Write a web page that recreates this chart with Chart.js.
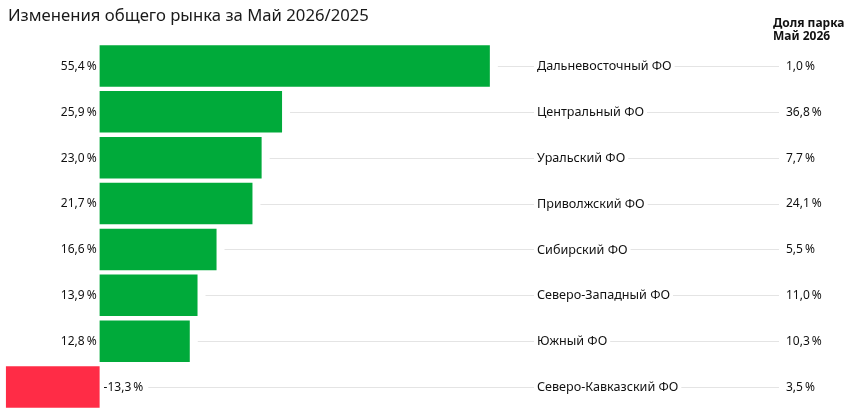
<!DOCTYPE html>
<html>
<head>
<meta charset="utf-8">
<script src="https://cdn.jsdelivr.net/npm/chart.js@4"></script>
<style>
  html, body { margin: 0; padding: 0; background: #fff; }
  #wrap { width: 850px; height: 415px; position: relative; }
</style>
</head>
<body>
<div id="wrap"><canvas id="grafico"></canvas></div>
<script>
const regions = [
  'Дальневосточный ФО', 'Центральный ФО', 'Уральский ФО', 'Приволжский ФО',
  'Сибирский ФО', 'Северо-Западный ФО', 'Южный ФО', 'Северо-Кавказский ФО'
];
const changes = [55.4, 25.9, 23.0, 21.7, 16.6, 13.9, 12.8, -13.3];
const shares = [1.0, 36.8, 7.7, 24.1, 5.5, 11.0, 10.3, 3.5];

const titleText = 'Изменения общего рынка за Май 2026/2025';
const shareHeader = ['Доля парка', 'Май 2026'];

const fontFamily = "'Noto Sans', 'Open Sans', sans-serif";
const green = '#00aa3a';
const red = '#ff2c46';
const gridColor = '#e4e4e4';

function pct(v) {
  return v.toFixed(1).replace('.', ',') + '\u202F%';
}

const rowsPlugin = {
  id: 'rows',
  beforeDatasetsDraw(chart) {
    const ctx = chart.ctx;
    const y = chart.scales.y;
    const x = chart.scales.x;
    const meta = chart.getDatasetMeta(0);
    const lineEnd = 779;
    const labelX = 537;
    ctx.save();
    ctx.strokeStyle = gridColor;
    ctx.lineWidth = 1;
    changes.forEach((v, i) => {
      const py = Math.round(y.getPixelForValue(i)) + 0.5;
      let start;
      ctx.font = '12px ' + fontFamily;
      if (v >= 0) {
        start = meta.data[i].x + 8;
      } else {
        start = x.getPixelForValue(0) + 4 + ctx.measureText(pct(v)).width + 5;
      }
      ctx.font = '12.6px ' + fontFamily;
      const labW = ctx.measureText(regions[i]).width;
      ctx.beginPath();
      ctx.moveTo(start, py);
      ctx.lineTo(labelX - 3, py);
      ctx.moveTo(labelX + labW + 3, py);
      ctx.lineTo(lineEnd, py);
      ctx.stroke();
    });
    ctx.restore();
  },
  afterDatasetsDraw(chart) {
    const ctx = chart.ctx;
    const y = chart.scales.y;
    const x = chart.scales.x;
    const zero = x.getPixelForValue(0);
    ctx.save();
    ctx.fillStyle = '#111';
    ctx.textBaseline = 'middle';
    changes.forEach((v, i) => {
      const py = y.getPixelForValue(i) + 0.5;
      ctx.font = '12px ' + fontFamily;
      if (v >= 0) {
        ctx.textAlign = 'right';
        ctx.fillText(pct(v), zero - 3, py);
      } else {
        ctx.textAlign = 'left';
        ctx.fillText(pct(v), zero + 4, py);
      }
      ctx.textAlign = 'left';
      ctx.fillText(pct(shares[i]), 786, py);
      ctx.font = '12.6px ' + fontFamily;
      ctx.fillText(regions[i], 537, py);
    });

    ctx.font = 'bold 12px ' + fontFamily;
    ctx.textBaseline = 'alphabetic';
    ctx.fillText(shareHeader[0], 773, 27);
    ctx.fillText(shareHeader[1], 773, 40);

    ctx.font = '16.7px ' + fontFamily;
    ctx.fillStyle = '#1a1a1a';
    ctx.fillText(titleText, 8, 21);
    ctx.restore();
  }
};

const ctx = document.getElementById('grafico').getContext('2d');
new Chart(ctx, {
  type: 'bar',
  data: {
    labels: regions,
    datasets: [{
      data: changes,
      backgroundColor: changes.map(v => v >= 0 ? green : red),
      borderWidth: 0,
      categoryPercentage: 1,
      barPercentage: 0.905
    }]
  },
  options: {
    indexAxis: 'y',
    responsive: true,
    maintainAspectRatio: false,
    animation: false,
    layout: {
      padding: { top: 43, bottom: 5, left: 1, right: 46 }
    },
    plugins: {
      legend: { display: false },
      tooltip: { enabled: false },
      title: { display: false }
    },
    scales: {
      x: { display: false, min: -14, max: 100 },
      y: { display: false }
    }
  },
  plugins: [rowsPlugin]
});
</script>
</body>
</html>
